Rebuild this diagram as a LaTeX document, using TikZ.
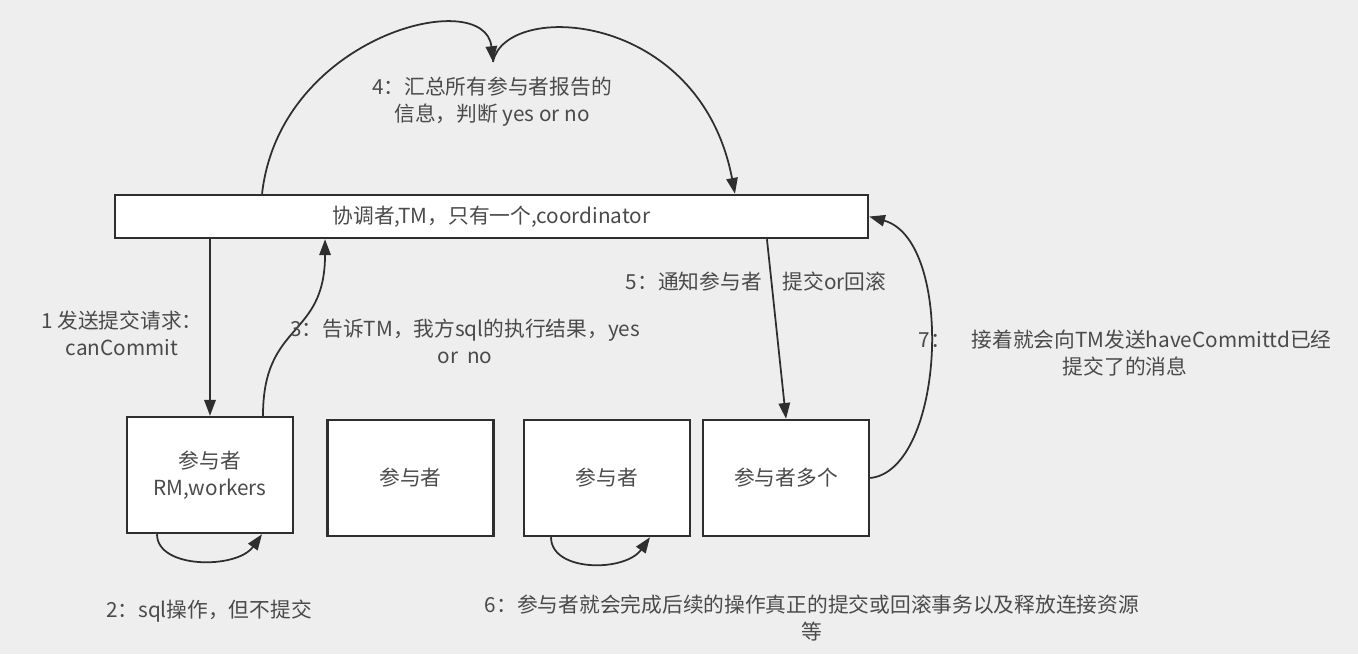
\documentclass[tikz,border=0pt]{standalone}
\usepackage{fontspec}
\setmainfont{Noto Sans CJK SC}
\usepackage{tikz}
\usetikzlibrary{positioning, arrows.meta}
\definecolor{bggray}{HTML}{EEEEEE}
\definecolor{linegray}{HTML}{2E2E2E}
\definecolor{textgray}{HTML}{4A4A4A}

\begin{document}
\begin{tikzpicture}[x=0.02cm, y=-0.02cm,
    box/.style={draw=linegray, fill=white, line width=1.4pt, text=textgray,
                align=center, font=\fontsize{11.8}{15.5}\selectfont},
    member/.style={box, minimum width=3.32cm, minimum height=2.32cm},
    flow/.style={draw=linegray, line width=1pt, -{Triangle[length=9pt, width=6.5pt]}},
    note/.style={text=textgray, align=center, font=\fontsize{11.8}{15.5}\selectfont}]

  \fill[bggray] (0,0) rectangle (1358,654);
  \useasboundingbox (0,0) rectangle (1358,654);

  % coordinator and participants
  \node[box, minimum width=15.06cm, minimum height=0.86cm] (tm) at (491.5,216.5)
    {协调者,TM，只有一个,coordinator};
  \node[member] (rm) at (210,475) {参与者\\RM,workers};
  \node[member] (p2) at (410.5,478) {参与者};
  \node[member] (p3) at (607,478) {参与者};
  \node[member] (p4) at (786,478) {参与者多个};

  % step 1 and 3
  \draw[flow] (tm.south -| rm.north) -- (rm.north);
  \draw[flow] ([xshift=1.06cm]rm.north) .. controls +(0,-95) and +(0,100) .. ([xshift=-3.33cm]tm.south);

  % step 4
  \coordinate (sum) at (493,62);
  \draw[flow] ([xshift=-4.59cm]tm.north) .. controls (280,35) and (485,-15) .. (sum);
  \draw[flow] (sum) .. controls (505,0) and (700,10) .. ([xshift=4.87cm]tm.north);

  % step 5 and 7
  \draw[flow] ([xshift=5.51cm]tm.south) -- (p4.north);
  \draw[flow] (p4.east) .. controls (945,470) and (955,240) .. (tm.east);

  % step 2 and 6
  \draw[flow] ([xshift=-1.06cm]rm.south) .. controls +(0,35) and +(-25,35) .. ([xshift=1.04cm]rm.south);
  \draw[flow] ([xshift=-1.12cm]p3.south) .. controls +(0,35) and +(-25,35) .. ([xshift=0.86cm]p3.south);

  % labels
  \node[note] (l1) at (122,333) {1 发送提交请求：\\canCommit};
  \node[note] (l2) at (209,611) {2：sql操作，但不提交};
  \node[note] (l3) at (465,341) {3：告诉TM，我方sql的执行结果，yes\\or\ \ no};
  \node[note] (l4) at (492,102) {4：汇总所有参与者报告的\\信息，判断 yes or no};
  \node[note] (l5) at (756,282) {5：通知参与者\hspace{1em}提交or回滚};
  \node[note] (l6) at (812,618) {6：参与者就会完成后续的操作真正的提交或回滚事务以及释放连接资源\\等};
  \node[note] (l7) at (1125,353) {7：\hspace{1em}接着就会向TM发送haveCommittd已经\\提交了的消息};
\end{tikzpicture}
\end{document}
